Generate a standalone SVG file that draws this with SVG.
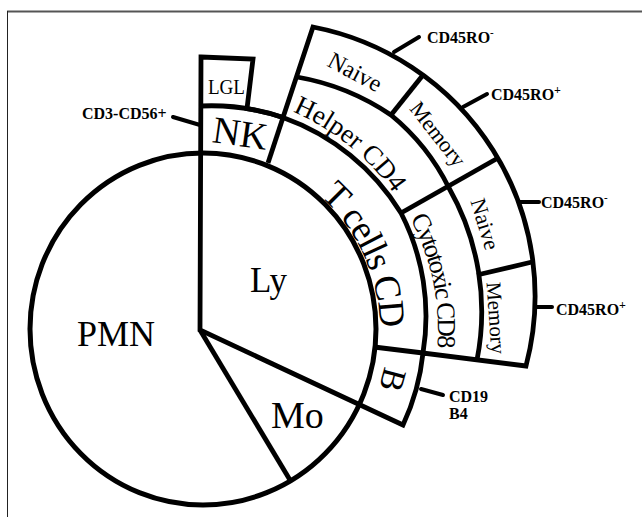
<svg xmlns="http://www.w3.org/2000/svg" width="642" height="517" viewBox="0 0 642 517">
<style>
.ln{fill:none;stroke:#000;stroke-width:4.8;stroke-linejoin:miter;stroke-miterlimit:10}
.ld{fill:none;stroke:#000;stroke-width:4;stroke-linecap:round}
.t{font-family:"Liberation Serif","Times New Roman",serif;fill:#000}
.big{font-size:36px}
.sm{font-size:16px;font-weight:bold}
</style>
<defs>
<path id="pT" d="M320.4,196.2 A180,180 0 0 1 378.2,355.0"/>
<path id="pH" d="M292.6,111.8 A237,237 0 0 1 405.2,211.5"/>
<path id="pC" d="M410.1,218.3 A238,238 0 0 1 435.7,363.1"/>
</defs>
<rect x="0" y="0" width="642" height="517" fill="#fff"/>
<g id="frame">
<line x1="7" y1="11.5" x2="642" y2="11.5" stroke="#555" stroke-width="2"/>
<line x1="7.5" y1="11" x2="7.5" y2="517" stroke="#222" stroke-width="1"/>
</g>
<g id="outline">
<ellipse cx="203" cy="329" rx="173" ry="176" fill="none" stroke="#000" stroke-width="5"/>
<path class="ln" d="M201,57 L253,59 L247,108.6 A224,224 0 0 1 283,117.5 L313,27 A274,274 0 0 1 526,366 L423,353 A224,224 0 0 1 403,425 L200,330 Z"/>
<path class="ln" d="M201,106 A224,224 0 0 1 283,117.5 A228,228 0 0 1 401,213 A226,226 0 0 1 423,353"/>
<path class="ln" d="M268,163 L283,117.5"/>
<path class="ln" d="M297,77 A240,240 0 0 1 391,115 A220,220 0 0 1 449,188 A250,250 0 0 1 477,360"/>
<path class="ln" d="M374,347 L423,353"/>
<path class="ln" d="M401,213 L498,158"/>
<path class="ln" d="M391,115 L423,75"/>
<path class="ln" d="M477,275 L532,262"/>
<path class="ln" d="M200,330 L290,480"/>
</g>
<g id="node-PMN"><text class="t big" x="77" y="346">PMN</text></g>
<g id="node-Ly"><text class="t" font-size="35" x="250" y="292">Ly</text></g>
<g id="node-Mo"><text class="t" font-size="38" x="271" y="428">Mo</text></g>
<g id="node-NK"><text class="t" font-size="38" x="213" y="146" transform="rotate(8 240 132)">NK</text></g>
<g id="node-LGL"><text class="t" font-size="21" x="208" y="94" textLength="37" lengthAdjust="spacingAndGlyphs">LGL</text></g>
<g id="node-Tcells"><text class="t" font-size="37" letter-spacing="-1.2"><textPath href="#pT">T cells CD</textPath></text></g>
<g id="node-B"><text class="t" font-size="34" text-anchor="middle" y="11.5" transform="translate(393,380) rotate(105)">B</text></g>
<g id="node-Helper"><text class="t" font-size="27"><textPath href="#pH">Helper CD4</textPath></text></g>
<g id="node-Cyto"><text class="t" font-size="26" letter-spacing="-2"><textPath href="#pC">Cytotoxic CD8</textPath></text></g>
<g id="node-NaiveH"><text class="t" font-size="24" text-anchor="middle" y="8" transform="translate(355,72) rotate(28)">Naive</text></g>
<g id="node-MemoryH"><text class="t" font-size="22" text-anchor="middle" y="7.5" transform="translate(438,134) rotate(52)">Memory</text></g>
<g id="node-NaiveC"><text class="t" font-size="22" text-anchor="middle" y="7.5" transform="translate(485,224) rotate(73)">Naive</text></g>
<g id="node-MemoryC"><text class="t" font-size="21" text-anchor="middle" y="7" transform="translate(496,318) rotate(86)">Memory</text></g>
<g id="connectors">
<line class="ld" x1="173" y1="117" x2="200" y2="125"/>
<line class="ld" x1="394" y1="52" x2="419" y2="37"/>
<line class="ld" x1="463" y1="107" x2="487" y2="94"/>
<line class="ld" x1="520" y1="202" x2="539" y2="202"/>
<line class="ld" x1="535" y1="307" x2="552" y2="307"/>
<line class="ld" x1="421" y1="389" x2="443" y2="395"/>
</g>
<g id="label-CD3CD56"><text class="t sm" x="82" y="119">CD3-CD56+</text></g>
<g id="label-CD45RO-1"><text class="t sm" x="427" y="43">CD45RO<tspan font-size="11" dy="-7">-</tspan></text></g>
<g id="label-CD45RO+1"><text class="t sm" x="491" y="100">CD45RO<tspan font-size="12" dy="-6">+</tspan></text></g>
<g id="label-CD45RO-2"><text class="t sm" x="541" y="208">CD45RO<tspan font-size="11" dy="-7">-</tspan></text></g>
<g id="label-CD45RO+2"><text class="t sm" x="556" y="315">CD45RO<tspan font-size="12" dy="-6">+</tspan></text></g>
<g id="label-CD19"><text class="t sm" x="449" y="402">CD19</text><text class="t sm" x="449" y="419">B4</text></g>
</svg>
